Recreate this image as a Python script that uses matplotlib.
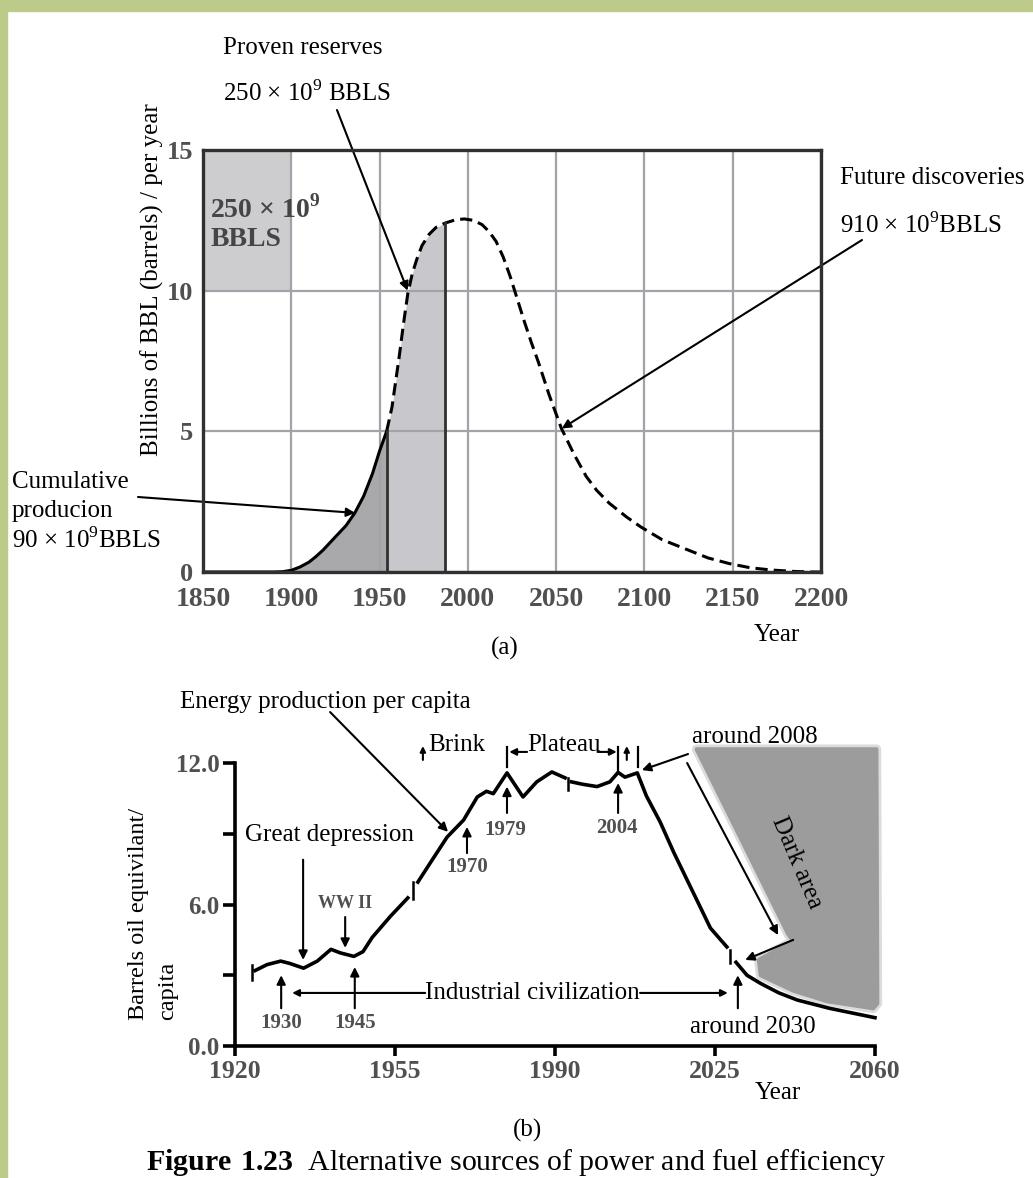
import numpy as np
import matplotlib
matplotlib.use("Agg")
import matplotlib.pyplot as plt
from matplotlib.patches import Rectangle, Polygon

plt.rcParams['font.family'] = ['Liberation Serif', 'DejaVu Serif']
plt.rcParams['mathtext.fontset'] = 'custom'
plt.rcParams['mathtext.rm'] = 'Liberation Serif'
plt.rcParams['mathtext.bf'] = 'Liberation Serif:bold'

# ---- (a) world oil production, billions of barrels per year
years_a = [1850, 1890, 1895, 1900, 1905, 1910, 1914, 1918, 1925, 1931, 1936, 1941, 1946, 1950,
           1954, 1957, 1961, 1963.5, 1966, 1968.5, 1971, 1974, 1978, 1982, 1987, 1993, 1998,
           2003, 2008, 2012, 2016, 2020, 2024, 2028, 2032, 2036, 2040, 2046, 2053, 2060, 2067,
           2073, 2080, 2090, 2098, 2110, 2124, 2136, 2148, 2160, 2172, 2185, 2195, 2200]
prod_a = [0, 0, 0.01, 0.06, 0.18, 0.35, 0.55, 0.78, 1.25, 1.65, 2.1, 2.7, 3.5, 4.3,
          5.0, 5.85, 7.6, 8.8, 9.9, 10.6, 11.1, 11.6, 12.0, 12.25, 12.4, 12.52, 12.55,
          12.5, 12.35, 12.1, 11.75, 11.2, 10.5, 9.7, 8.9, 8.15, 7.45, 6.3, 5.1, 4.2, 3.4,
          2.9, 2.45, 1.95, 1.6, 1.15, 0.8, 0.5, 0.3, 0.15, 0.07, 0.02, 0.0, 0.0]
measured_end = 1954   # solid line / cumulative production up to here
reserves_end = 1987   # proven reserves shading up to here
xticks_a = [1850, 1900, 1950, 2000, 2050, 2100, 2150, 2200]
yticks_a = [0, 5, 10, 15]

# ---- (b) energy production per capita (barrels oil equivalent)
nan = np.nan
years_b = [1924.4, 1927, 1930, 1932, 1935, 1938, 1941, 1943, 1946, 1948, 1950, 1954, 1957.8,
           nan, 1960, 1962.7, 1966.4, 1970, 1973, 1975, 1976.5, 1979.5, 1983, 1986, 1989.3, 1992.2,
           nan, 1993.6, 1996, 1999.2, 2002, 2003.8, 2005.3, 2008, 2010, 2013, 2016, 2020, 2024, 2027.6,
           nan, 2029.6, 2032, 2035, 2039, 2043, 2050, 2055, 2060]
energy_b = [3.2, 3.45, 3.6, 3.5, 3.3, 3.6, 4.1, 3.95, 3.8, 4.0, 4.6, 5.5, 6.28,
            nan, 6.95, 7.76, 8.86, 9.58, 10.56, 10.8, 10.7, 11.58, 10.56, 11.2, 11.62, 11.37,
            nan, 11.2, 11.1, 11.0, 11.2, 11.6, 11.4, 11.58, 10.6, 9.5, 8.2, 6.6, 5.0, 4.2,
            nan, 3.55, 3.0, 2.65, 2.25, 1.95, 1.6, 1.4, 1.2]
break_years = [1923.7, 1958.9, 1992.8, 2028.3]
break_lo = [2.8, 6.25, 10.86, 3.52]
break_hi = [3.45, 6.95, 11.37, 4.07]
xticks_b = [1920, 1955, 1990, 2025, 2060]
yticks_b = [0, 3, 6, 9, 12]
ytick_labels_b = ['0.0', '', '6.0', '', '12.0']
dark_yr = [2021.0, 2060.3, 2060.5, 2059.6, 2049.5, 2042.1, 2035.0, 2034.6, 2042.1, 2041.0]
dark_val = [12.58, 12.58, 1.8, 1.6, 1.9, 2.35, 3.0, 3.65, 4.45, 4.75]

W, H = 1033, 1178
fig = plt.figure(figsize=(W / 100, H / 100), dpi=100)
fig.patch.set_facecolor('white')


def P(x, y):
    return (x, H - y)


def ftext(x, y, s, **kw):
    kw.setdefault('fontsize', 18)
    kw.setdefault('va', 'center')
    kw.setdefault('ha', 'left')
    fig.text(x / W, 1 - y / H, s, **kw)


# green frame on top and left
green = '#bccb8a'
fig.patches.append(Rectangle((0, 1 - 11 / H), 1, 11 / H, transform=fig.transFigure,
                             color=green, zorder=0))
fig.patches.append(Rectangle((0, 0), 7 / W, 1, transform=fig.transFigure,
                             color=green, zorder=0))

arrow_kw = dict(arrowstyle='-|>', color='black', lw=1.5, mutation_scale=13,
                shrinkA=0, shrinkB=0)
tick_grey = '#505050'

# ================= (a) =================
ax = fig.add_axes([203 / W, 1 - 572 / H, (821 - 203) / W, (572 - 150) / H])
ax.set_xlim(1850, 2200)
ax.set_ylim(0, 15)
ax.set_xticks(xticks_a)
ax.set_yticks(yticks_a)
ax.tick_params(axis='x', length=0, labelsize=20, labelcolor=tick_grey, pad=11)
ax.tick_params(axis='y', length=0, labelsize=19, labelcolor=tick_grey, pad=7)
for lab in ax.get_xticklabels() + ax.get_yticklabels():
    lab.set_fontweight('bold')
ax.grid(True, color='#a2a2a8', lw=1.6)
ax.set_axisbelow(False)
for sp in ax.spines.values():
    sp.set_linewidth(2.4)
    sp.set_color('#303030')
    sp.set_zorder(6)

ya = np.array(years_a, dtype=float)
pa = np.array(prod_a, dtype=float)
ax.add_patch(Rectangle((1850, 10), 50, 5, color='#cdcdd0', zorder=1, lw=0))
ax.fill_between(ya, 0, pa, where=(ya <= measured_end), color='#a9a9ac', lw=0, zorder=1)
ax.fill_between(ya, 0, pa, where=(ya >= measured_end) & (ya <= reserves_end),
                color='#c8c8cc', lw=0, zorder=1)
m = ya <= measured_end
ax.plot(ya[m], pa[m], color='black', lw=2.2, zorder=4, solid_capstyle='butt')
ax.plot(ya[ya >= measured_end], pa[ya >= measured_end], color='black', lw=2.2,
        ls=(0, (4, 2)), zorder=4)
for yr in (measured_end, reserves_end):
    ax.plot([yr, yr], [0, pa[ya == yr][0]], color='#303030', lw=2.0, zorder=4)

ax.text(1854, 12.88, r'250 × $\mathbf{10}^{\mathbf{9}}$', fontsize=20, fontweight='bold',
        color='#454545', va='center', ha='left', zorder=5)
ax.text(1854, 11.82, 'BBLS', fontsize=20, fontweight='bold', color='#454545',
        va='center', ha='left', zorder=5)

ax.annotate('', xy=(1965.9, 10.0), xycoords='data', xytext=P(337, 110),
            textcoords='figure pixels', arrowprops=arrow_kw, annotation_clip=False)
ax.annotate('', xy=(2053.2, 5.1), xycoords='data', xytext=P(862, 240),
            textcoords='figure pixels', arrowprops=arrow_kw, annotation_clip=False)
ax.annotate('', xy=(1936.2, 2.1), xycoords='data', xytext=P(138, 497),
            textcoords='figure pixels', arrowprops=arrow_kw, annotation_clip=False)

ftext(223, 48, 'Proven reserves')
ftext(223, 93, r'250 × $\mathrm{10}^{9}$ BBLS')
ftext(840, 178, 'Future discoveries')
ftext(840, 225, r'910 × $\mathrm{10}^{9}$BBLS')
ftext(12, 482, 'Cumulative')
ftext(12, 511, 'producion')
ftext(12, 540, r'90 × $\mathrm{10}^{9}$BBLS')
ftext(152, 280, 'Billions of BBL (barrels) / per year', rotation=90, ha='center')
ftext(777, 635, 'Year', ha='center')
ftext(505, 648, '(a)', ha='center')

# ================= (b) =================
bx = fig.add_axes([235 / W, 1 - 1046 / H, (875 - 235) / W, (1046 - 763) / H])
bx.set_xlim(1920, 2060)
bx.set_ylim(0, 12)
bx.set_xticks(xticks_b)
bx.set_yticks(yticks_b)
bx.set_yticklabels(ytick_labels_b)
bx.spines['top'].set_visible(False)
bx.spines['right'].set_visible(False)
for sp in ('left', 'bottom'):
    bx.spines[sp].set_linewidth(2.6)
bx.tick_params(axis='y', length=9, width=2.6, labelsize=18, labelcolor=tick_grey, pad=2)
bx.tick_params(axis='x', length=7, width=2.6, labelsize=18.5, labelcolor=tick_grey, pad=3)
for lab in bx.get_xticklabels() + bx.get_yticklabels():
    lab.set_fontweight('bold')

# soft halo and the grey "dark area"
dark_xy = np.column_stack([dark_yr, dark_val])
bx.add_patch(Polygon(dark_xy, closed=True, facecolor='none', edgecolor='#dcdcdc',
                     lw=7, joinstyle='round', clip_on=False, zorder=1))
bx.add_patch(Polygon(dark_xy, closed=True, facecolor='#9c9c9c', edgecolor='#9c9c9c',
                     lw=3, joinstyle='round', clip_on=False, zorder=1))
bx.plot(years_b, energy_b, color='black', lw=2.6, zorder=4, clip_on=False)
for yr, lo, hi in zip(break_years, break_lo, break_hi):
    bx.plot([yr, yr], [lo, hi], color='black', lw=1.8, zorder=4, clip_on=False)

vbar_kw = dict(color='black', lw=1.6, clip_on=False, zorder=4)
# Plateau bracket
bx.plot([1979.5, 1979.5], [11.83, 12.68], **vbar_kw)
bx.plot([2003.8, 2003.8], [11.6, 12.68], **vbar_kw)
bx.plot([2008.2, 2008.2], [11.83, 12.68], **vbar_kw)


def arr(tip, tail, ms=13):
    kw = dict(arrow_kw)
    kw['mutation_scale'] = ms
    bx.annotate('', xy=tip, xytext=tail, xycoords='data', textcoords='data',
                arrowprops=kw, annotation_clip=False)


arr((1980.0, 12.47), (1983.9, 12.47), 10)
arr((2003.5, 12.47), (1999.3, 12.47), 10)
arr((1961.1, 12.72), (1961.1, 12.13), 8)
arr((2005.7, 12.72), (2005.7, 12.13), 8)
arr((1966.6, 9.08), (1940.8, 14.16))
arr((2009.0, 11.7), (2019.1, 12.38))
arr((2038.8, 4.7), (2018.9, 12.0))
arr((2031.6, 3.65), (2042.1, 4.5))
arr((1934.9, 3.65), (1934.9, 7.9))
arr((1944.1, 4.16), (1944.1, 5.47))
arr((1970.75, 9.29), (1970.75, 8.18))
arr((1979.5, 11.0), (1979.5, 9.88))
arr((2003.8, 11.15), (2003.8, 9.88))
arr((1930.1, 3.0), (1930.1, 1.6))
arr((1946.2, 3.35), (1946.2, 1.6))
arr((2030.0, 3.0), (2030.0, 1.6))
arr((1932.5, 2.25), (1961.6, 2.25), 10)
arr((2027.8, 2.25), (2008.6, 2.25), 10)

ftext(180, 702, 'Energy production per capita')
ftext(428, 745, 'Brink')
ftext(527, 745, 'Plateau')
ftext(692, 737, 'around 2008')
ftext(245, 835, 'Great depression')
ftext(345, 903, 'WW II', ha='center', fontsize=13, fontweight='bold', color=tick_grey)
for x, y, s in [(467, 867, '1970'), (505, 830, '1979'), (617, 828, '2004'),
                (281, 1023, '1930'), (355, 1023, '1945')]:
    ftext(x, y, s, ha='center', fontsize=15, fontweight='bold', color=tick_grey)
ftext(425, 993, 'Industrial civilization')
ftext(753, 1027, 'around 2030', ha='center')
ftext(797, 863, 'Dark area', ha='center', rotation=-67)
fig.text(153 / W, 1 - 1020 / H, 'Barrels oil equivilant/\ncapita', rotation=90,
         ha='center', va='bottom', multialignment='left', fontsize=17.5, linespacing=1.5)
ftext(778, 1093, 'Year', ha='center')
ftext(527, 1130, '(b)', ha='center')
ftext(516, 1163, r'$\mathbf{Figure\ 1.23}$  Alternative sources of power and fuel efficiency',
      ha='center', fontsize=21.5)

fig.savefig('out.png', dpi=100)
